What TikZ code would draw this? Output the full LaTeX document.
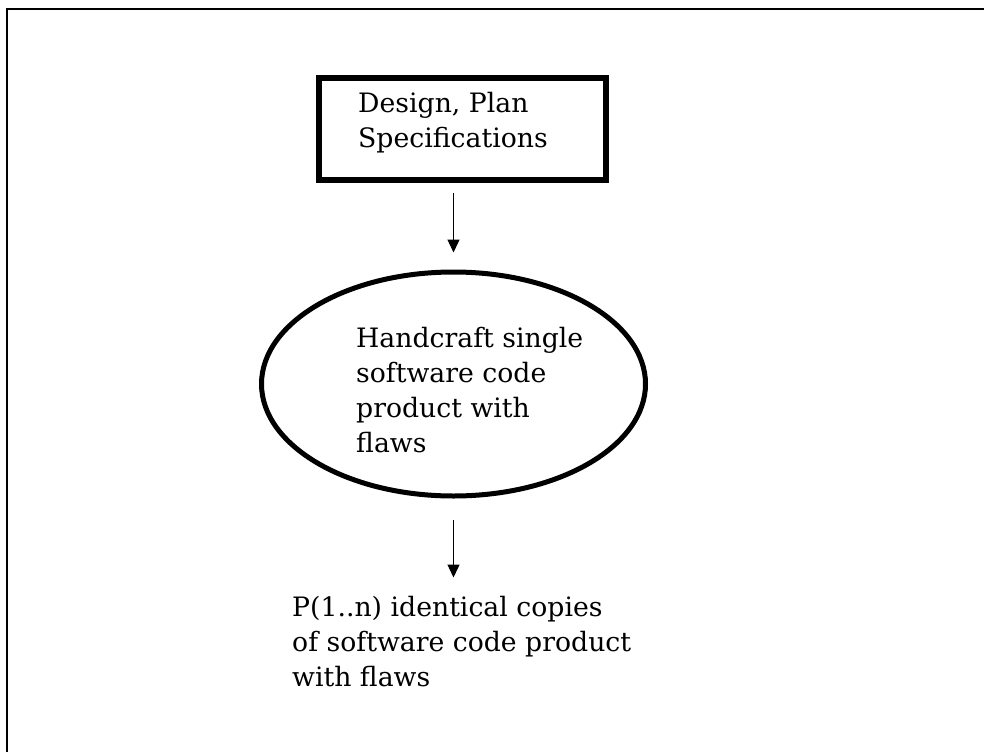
\documentclass[tikz,border=0pt]{standalone}
\usepackage{fontspec}
\setmainfont{DejaVu Serif}
\usetikzlibrary{arrows.meta,shapes.geometric}

\begin{document}
\begin{tikzpicture}[x=1pt,y=-1pt,
  lbl/.style={anchor=base west, inner sep=0pt, align=left,
              font={\fontsize{26.7}{35}\selectfont}},
  flow/.style={line width=1.3pt, -{Triangle[length=13pt,width=12pt]}},
  ]
% page and open frame (top and left edges only)
\useasboundingbox (0,0) rectangle (984,752);
\fill[white] (0,0) rectangle (984,752);
\draw[line width=2pt] (7,752) -- (7,9) -- (984,9);

% specification box (label anchored at the baseline of its last line)
\node[draw, line width=5.5pt, minimum width=287pt, minimum height=102pt,
      inner sep=0pt] (spec) at (462.5,129) {};
\node[lbl] (spectxt) at (358,147) {Design, Plan\\Specifications};

% handcrafting step
\node[draw, ellipse, line width=5pt, minimum width=384pt, minimum height=224pt,
      inner sep=0pt] (hc) at (453.5,384) {};
\node[lbl] (hctxt) at (356,452) {Handcraft single\\software code\\product with\\flaws};

% resulting copies
\node[lbl] (copies) at (292,686) {P(1..n) identical copies\\of software code product\\with flaws};

% flow arrows
\draw[flow, shorten <=10pt, shorten >=17pt] (hc.north |- spec.south) -- (hc.north);
\draw[flow, shorten <=21.5pt, shorten >=18pt] (hc.south) -- (hc.south |- copies.north);
\end{tikzpicture}
\end{document}
